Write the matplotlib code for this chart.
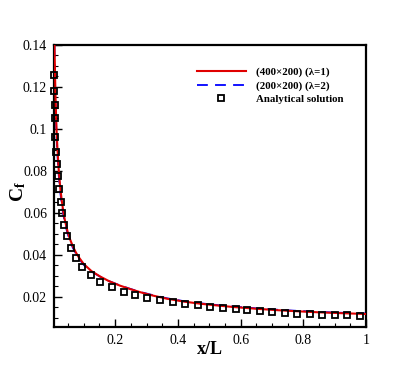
import matplotlib
matplotlib.use("Agg")
import matplotlib.pyplot as plt
from matplotlib.ticker import MultipleLocator, FixedLocator, FuncFormatter

plt.rcParams['font.family'] = ['Liberation Serif', 'DejaVu Serif']
plt.rcParams['mathtext.fontset'] = 'custom'
plt.rcParams['mathtext.rm'] = 'Liberation Serif'
plt.rcParams['mathtext.bf'] = 'Liberation Serif:bold'
plt.rcParams['mathtext.it'] = 'Liberation Serif:italic'

# Red solid: (400x200) (lambda=1)
x_fine = [0.0055, 0.007, 0.010, 0.013, 0.016, 0.020, 0.025, 0.030, 0.035, 0.040, 0.048,
          0.056, 0.065, 0.075, 0.083, 0.100, 0.125, 0.152, 0.180, 0.216, 0.250, 0.280,
          0.320, 0.365, 0.420, 0.472, 0.530, 0.580, 0.650, 0.720, 0.781, 0.850, 0.920, 1.0]
cf_fine = [0.150, 0.135, 0.114, 0.100, 0.0905, 0.0805, 0.0718, 0.0655, 0.0602, 0.0562, 0.0512,
           0.0474, 0.0440, 0.0410, 0.0390, 0.0355, 0.0321, 0.0296, 0.0274, 0.0252, 0.0235, 0.0221,
           0.0205, 0.0190, 0.0176, 0.0166, 0.0157, 0.0150, 0.0142, 0.0135, 0.0130, 0.0125, 0.0121, 0.0117]

# Blue dashed: (200x200) (lambda=2)
x_coarse = [0.0055, 0.007, 0.010, 0.013, 0.016, 0.020, 0.025, 0.030, 0.035, 0.040, 0.048,
            0.056, 0.065, 0.075, 0.083, 0.100, 0.125, 0.152, 0.180, 0.216, 0.250, 0.280,
            0.320, 0.365, 0.420, 0.472, 0.530, 0.580, 0.650, 0.720, 0.781, 0.850, 0.920, 1.0]
cf_coarse = [0.148, 0.132, 0.111, 0.097, 0.0875, 0.0780, 0.0698, 0.0638, 0.0588, 0.0550, 0.0502,
             0.0466, 0.0433, 0.0405, 0.0385, 0.0351, 0.0319, 0.0295, 0.0274, 0.0253, 0.0236, 0.0222,
             0.0207, 0.0192, 0.0178, 0.0168, 0.0159, 0.0152, 0.0144, 0.0137, 0.0132, 0.0127, 0.0123, 0.0120]

# Analytical solution (squares)
x_exact = [0.0048, 0.0052, 0.007, 0.0075, 0.009, 0.011, 0.0154, 0.0176, 0.0198, 0.026, 0.029,
           0.037, 0.045, 0.058, 0.074, 0.095, 0.123, 0.152, 0.189, 0.227, 0.264, 0.303, 0.342,
           0.383, 0.424, 0.463, 0.502, 0.543, 0.584, 0.621, 0.662, 0.701, 0.742, 0.781, 0.822,
           0.861, 0.902, 0.941, 0.982]
cf_exact = [0.1257, 0.118, 0.1112, 0.1051, 0.0963, 0.0891, 0.0833, 0.0773, 0.0713, 0.0653, 0.0598,
            0.0542, 0.0487, 0.0434, 0.0384, 0.0341, 0.0301, 0.0270, 0.0244, 0.0223, 0.0207, 0.0193,
            0.0182, 0.0172, 0.0164, 0.0158, 0.0152, 0.0147, 0.0140, 0.0134, 0.0129, 0.0125, 0.0121,
            0.0119, 0.0117, 0.0114, 0.0112, 0.0111, 0.0109]

labels = ['(400×200) (λ=1)', '(200×200) (λ=2)', 'Analytical solution']
x_ticks = [0.2, 0.4, 0.6, 0.8, 1.0]
y_ticks = [0.02, 0.04, 0.06, 0.08, 0.10, 0.12, 0.14]

fig = plt.figure(figsize=(4.15, 3.69), dpi=100)
ax = fig.add_axes([54/415, 1-327/369, 312/415, 282/369])

ax.plot(x_fine, cf_fine, '-', color='#e00000', lw=1.5, label=labels[0], zorder=3)
ax.plot(x_coarse, cf_coarse, '--', color='#0000ff', lw=1.3, dashes=(6, 4), label=labels[1], zorder=2)
ax.plot(x_exact, cf_exact, 's', ms=5, mfc='none', mec='black', mew=1.3, label=labels[2],
        clip_on=False, zorder=4)

ax.set_xlim(0.005, 1.0)
ax.set_ylim(0.0055, 0.14)

ax.xaxis.set_major_locator(FixedLocator(x_ticks))
ax.yaxis.set_major_locator(FixedLocator(y_ticks))
ax.xaxis.set_minor_locator(MultipleLocator(0.05))
ax.yaxis.set_minor_locator(MultipleLocator(0.005))
fmt = FuncFormatter(lambda v, p: ('%g' % round(v, 4)))
ax.xaxis.set_major_formatter(fmt)
ax.yaxis.set_major_formatter(fmt)
ax.tick_params(which='major', direction='in', length=6, width=1.0, labelsize=10,
               top=False, right=False, pad=5)
ax.tick_params(which='minor', direction='in', length=3, width=0.8, top=False, right=False)
for s in ax.spines.values():
    s.set_linewidth(1.6)

ax.set_xlabel('x/L', fontsize=13, fontweight='bold')
ax.xaxis.set_label_coords(0.5, -0.05)
ax.set_ylabel(r'$\mathbf{C_f}$', fontsize=14)
ax.yaxis.set_label_coords(-0.082, 0.482)

ax.legend(loc='upper left', bbox_to_anchor=(0.458, 0.92), frameon=False,
          prop={'family': 'Liberation Serif', 'weight': 'bold', 'size': 7.8},
          handlelength=4.5, handletextpad=1.0, labelspacing=0.33,
          borderpad=0, borderaxespad=0)

fig.savefig('out.png', dpi=100)
